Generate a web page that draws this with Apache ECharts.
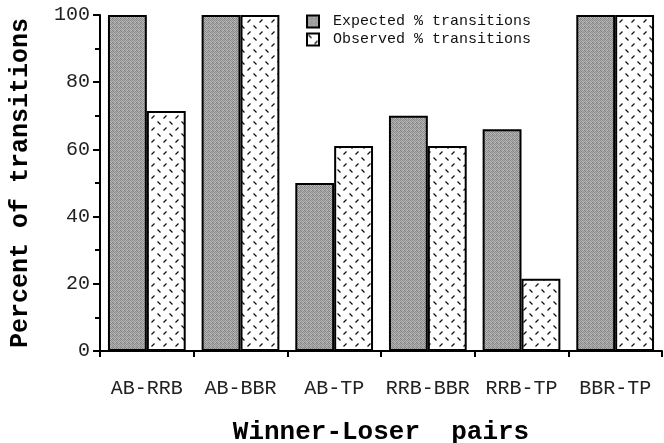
<!DOCTYPE html>
<html>
<head>
<meta charset="utf-8">
<script src="https://cdn.jsdelivr.net/npm/echarts@6/dist/echarts.min.js"></script>
<style>
  html, body { margin: 0; padding: 0; background: #fff; }
  #chart { width: 664px; height: 443px; }
</style>
</head>
<body>
<div id="chart"></div>
<script>
const categories = ['AB-RRB', 'AB-BBR', 'AB-TP', 'RRB-BBR', 'RRB-TP', 'BBR-TP'];
const expected = [100, 100, 50, 70, 66, 100];
const observed = [71.4, 100, 61, 61, 21.5, 100];
const seriesNames = ['Expected % transitions', 'Observed % transitions'];

const FONT = '"Liberation Mono", "DejaVu Sans Mono", monospace';

// stippled gray fill
const makeStipple = () => {
  const c = document.createElement('canvas');
  c.width = 4; c.height = 4;
  const ctx = c.getContext('2d');
  const shades = [
    '#8e8e8e', '#b8b8b8', '#848484', '#acacac',
    '#b4b4b4', '#8a8a8a', '#c0c0c0', '#949494',
    '#808080', '#aeaeae', '#929292', '#bcbcbc',
    '#a8a8a8', '#868686', '#b6b6b6', '#8c8c8c'
  ];
  shades.forEach((s, i) => {
    ctx.fillStyle = s;
    ctx.fillRect(i % 4, Math.floor(i / 4), 1, 1);
  });
  return c;
};

// white fill with short alternating dashes
const makeHatch = () => {
  const c = document.createElement('canvas');
  c.width = 12; c.height = 12;
  const ctx = c.getContext('2d');
  ctx.fillStyle = '#fff';
  ctx.fillRect(0, 0, 12, 12);
  ctx.strokeStyle = '#111';
  ctx.lineWidth = 1.3;
  ctx.beginPath();
  ctx.moveTo(1.5, 1.5); ctx.lineTo(4.5, 4.5);
  ctx.moveTo(7.5, 10.5); ctx.lineTo(10.5, 7.5);
  ctx.stroke();
  return c;
};

const chart = echarts.init(document.getElementById('chart'));

const option = {
  animation: false,
  backgroundColor: '#fff',
  grid: { left: 100, right: 2, top: 15, bottom: 92, containLabel: false, outerBoundsMode: 'none' },
  legend: {
    orient: 'vertical',
    left: 301,
    top: 9,
    icon: 'rect',
    itemWidth: 12,
    itemHeight: 12,
    itemGap: 3,
    textStyle: { fontFamily: FONT, fontSize: 15, color: '#111', padding: [0, 0, 0, 9] },
    data: seriesNames
  },
  xAxis: {
    type: 'category',
    data: categories,
    name: 'Winner-Loser  pairs',
    nameLocation: 'middle',
    nameGap: 68,
    nameTextStyle: { fontFamily: FONT, fontSize: 26, fontWeight: 'bold', color: '#000' },
    axisLine: { lineStyle: { color: '#000', width: 2 } },
    axisTick: { show: true, length: 6, lineStyle: { color: '#000', width: 2 } },
    axisLabel: { interval: 0, fontFamily: FONT, fontSize: 20, color: '#222', margin: 28 }
  },
  yAxis: {
    type: 'value',
    min: 0,
    max: 100,
    interval: 20,
    name: 'Percent of transitions',
    nameLocation: 'middle',
    nameGap: 67,
    nameTextStyle: { fontFamily: FONT, fontSize: 25, fontWeight: 'bold', color: '#000' },
    axisLine: { show: true, lineStyle: { color: '#000', width: 2 } },
    axisTick: { show: true, length: 7, lineStyle: { color: '#000', width: 2 } },
    minorTick: { show: true, splitNumber: 2, length: 5, lineStyle: { color: '#000', width: 2 } },
    splitLine: { show: false },
    axisLabel: { fontFamily: FONT, fontSize: 20, color: '#222', margin: 10 }
  },
  series: [
    {
      name: seriesNames[0],
      type: 'bar',
      data: expected,
      barGap: '0%',
      barCategoryGap: '17%',
      itemStyle: {
        color: { image: makeStipple(), repeat: 'repeat' },
        borderColor: '#000',
        borderWidth: 2
      }
    },
    {
      name: seriesNames[1],
      type: 'bar',
      data: observed,
      barGap: '0%',
      barCategoryGap: '17%',
      itemStyle: {
        color: { image: makeHatch(), repeat: 'repeat' },
        borderColor: '#000',
        borderWidth: 2
      }
    }
  ]
};

chart.setOption(option);
</script>
</body>
</html>
